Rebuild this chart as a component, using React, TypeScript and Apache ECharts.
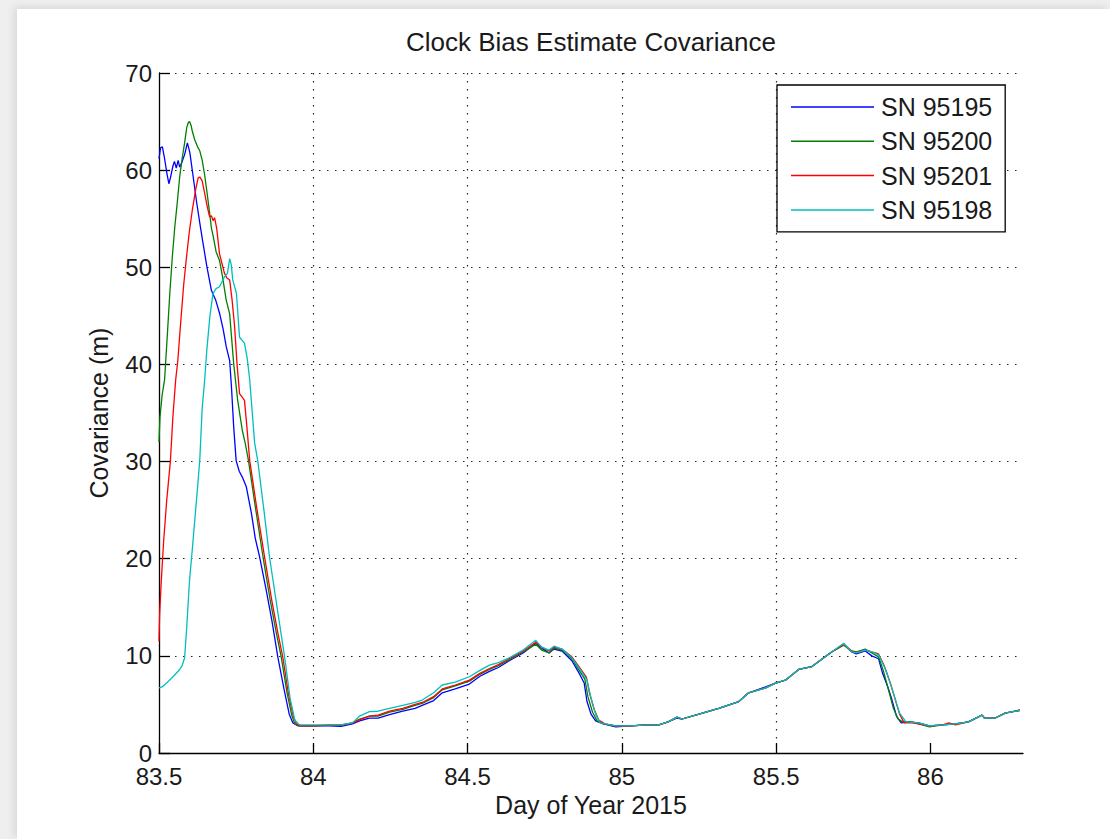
import React, { useEffect, useRef } from "react";
import * as echarts from "echarts";

const titleText = "Clock Bias Estimate Covariance";
const xName = "Day of Year 2015";
const yName = "Covariance (m)";
const xTicks = [83.5, 84, 84.5, 85, 85.5, 86];
const seriesNames = ["SN 95195", "SN 95200", "SN 95201", "SN 95198"];
const seriesColors = ["#0000ff", "#008000", "#ff0000", "#00bfbf"];

const sn95195 = [
  [83.5, 61.2], [83.505, 62.3], [83.511, 62.4], [83.518, 61.2], [83.526, 59.6], [83.532, 58.6],
  [83.537, 59.2], [83.545, 60.4], [83.55, 60.9], [83.556, 60.2], [83.562, 61.0], [83.567, 60.3],
  [83.573, 60.7], [83.583, 61.6], [83.592, 62.8], [83.6, 61.8], [83.61, 59.5], [83.621, 56.9],
  [83.632, 54.6], [83.641, 52.8], [83.655, 50.1], [83.67, 47.6], [83.684, 46.6], [83.696, 45.3],
  [83.708, 43.6], [83.718, 41.8], [83.729, 40.4], [83.735, 37.6], [83.742, 33.6], [83.75, 30.1],
  [83.76, 29.0], [83.77, 28.4], [83.783, 27.4], [83.8, 24.6], [83.812, 22.1], [83.826, 20.2],
  [83.846, 17.0], [83.866, 13.6], [83.885, 9.9], [83.905, 6.6], [83.922, 4.0], [83.934, 3.1],
  [83.95, 2.8], [84.0, 2.8], [84.05, 2.8], [84.09, 2.75], [84.127, 3.0], [84.15, 3.3],
  [84.182, 3.6], [84.21, 3.6], [84.247, 3.95], [84.29, 4.3], [84.33, 4.6], [84.353, 4.9],
  [84.39, 5.4], [84.418, 6.2], [84.46, 6.6], [84.506, 7.1], [84.54, 7.9], [84.571, 8.4],
  [84.6, 8.8], [84.635, 9.5], [84.68, 10.3], [84.721, 11.3], [84.74, 10.8], [84.764, 10.3],
  [84.78, 10.7], [84.806, 10.5], [84.838, 9.5], [84.86, 8.3], [84.878, 7.2], [84.887, 5.3],
  [84.9, 4.0], [84.915, 3.3], [84.94, 3.0], [84.98, 2.7], [85.03, 2.8], [85.08, 2.9],
  [85.12, 2.9], [85.15, 3.2], [85.179, 3.6], [85.195, 3.5], [85.25, 4.0], [85.314, 4.6],
  [85.379, 5.3], [85.411, 6.2], [85.466, 6.8], [85.498, 7.2], [85.53, 7.5], [85.573, 8.6],
  [85.616, 8.9], [85.65, 9.7], [85.68, 10.4], [85.719, 11.2], [85.745, 10.4], [85.76, 10.2],
  [85.789, 10.5], [85.81, 10.0], [85.832, 9.7], [85.845, 8.2], [85.862, 6.8], [85.875, 5.5],
  [85.89, 3.8], [85.905, 3.1], [85.93, 3.2], [85.962, 3.1], [85.997, 2.8], [86.04, 2.9],
  [86.081, 3.0], [86.123, 3.2], [86.167, 3.9], [86.175, 3.6], [86.21, 3.6], [86.242, 4.1],
  [86.29, 4.4],
];

const sn95200 = [
  [83.5, 32.0], [83.503, 34.5], [83.51, 36.8], [83.518, 38.4], [83.526, 42.5], [83.535, 47.3],
  [83.543, 51.0], [83.551, 54.1], [83.559, 56.6], [83.567, 59.3], [83.575, 61.2], [83.583, 62.8],
  [83.59, 64.4], [83.595, 64.9], [83.599, 65.0], [83.604, 64.6], [83.608, 64.0], [83.616, 63.1],
  [83.625, 62.4], [83.632, 62.0], [83.64, 61.0], [83.648, 59.5], [83.656, 57.6], [83.664, 55.6],
  [83.67, 54.0], [83.675, 53.3], [83.685, 51.6], [83.696, 50.7], [83.705, 49.2], [83.718, 46.6],
  [83.729, 45.2], [83.742, 40.1], [83.755, 36.3], [83.77, 33.2], [83.78, 31.8], [83.79, 30.1],
  [83.81, 25.8], [83.837, 20.2], [83.86, 15.8], [83.88, 12.4], [83.896, 9.9], [83.915, 6.2],
  [83.93, 3.9], [83.94, 3.0], [83.955, 2.8], [84.0, 2.8], [84.05, 2.85], [84.09, 2.85],
  [84.127, 3.1], [84.15, 3.5], [84.182, 3.8], [84.21, 3.8], [84.247, 4.2], [84.29, 4.5],
  [84.33, 4.9], [84.353, 5.1], [84.39, 5.7], [84.418, 6.5], [84.46, 6.9], [84.506, 7.4],
  [84.54, 8.1], [84.571, 8.6], [84.6, 9.0], [84.635, 9.6], [84.68, 10.4], [84.721, 11.2],
  [84.74, 10.6], [84.764, 10.3], [84.78, 10.8], [84.806, 10.6], [84.838, 9.7], [84.862, 8.5],
  [84.88, 7.6], [84.89, 5.8], [84.905, 4.2], [84.92, 3.3], [84.94, 3.0], [84.98, 2.8],
  [85.03, 2.8], [85.08, 2.9], [85.12, 2.9], [85.15, 3.2], [85.179, 3.7], [85.195, 3.5],
  [85.25, 4.0], [85.314, 4.6], [85.379, 5.3], [85.411, 6.2], [85.466, 6.7], [85.498, 7.2],
  [85.53, 7.5], [85.573, 8.6], [85.616, 8.9], [85.65, 9.7], [85.68, 10.4], [85.719, 11.1],
  [85.745, 10.5], [85.76, 10.4], [85.789, 10.7], [85.81, 10.3], [85.832, 9.9], [85.848, 8.4],
  [85.865, 6.4], [85.88, 4.6], [85.895, 3.5], [85.91, 3.2], [85.94, 3.2], [85.962, 3.0],
  [85.997, 2.7], [86.04, 2.9], [86.081, 3.0], [86.123, 3.2], [86.167, 3.9], [86.175, 3.6],
  [86.21, 3.6], [86.242, 4.1], [86.29, 4.4],
];

const sn95201 = [
  [83.5, 11.5], [83.502, 14.2], [83.507, 17.5], [83.515, 21.8], [83.525, 26.0], [83.537, 30.1],
  [83.545, 34.6], [83.554, 38.4], [83.561, 40.4], [83.57, 44.2], [83.58, 48.2], [83.588, 50.7],
  [83.598, 53.6], [83.608, 55.9], [83.62, 58.2], [83.627, 59.2], [83.632, 59.3], [83.64, 58.9],
  [83.648, 57.6], [83.656, 56.3], [83.664, 55.2], [83.67, 55.3], [83.675, 54.8], [83.68, 55.1],
  [83.687, 54.0], [83.696, 51.4], [83.712, 49.4], [83.72, 48.9], [83.729, 48.7], [83.737, 46.6],
  [83.745, 43.9], [83.753, 40.0], [83.761, 37.0], [83.77, 36.6], [83.777, 36.3], [83.785, 33.5],
  [83.794, 30.1], [83.815, 25.6], [83.842, 20.2], [83.865, 15.8], [83.885, 12.4], [83.901, 9.9],
  [83.92, 6.0], [83.935, 3.8], [83.945, 3.0], [83.96, 2.8], [84.0, 2.8], [84.05, 2.9],
  [84.09, 2.9], [84.127, 3.1], [84.15, 3.4], [84.182, 3.8], [84.21, 3.9], [84.247, 4.3],
  [84.29, 4.6], [84.33, 5.0], [84.353, 5.2], [84.39, 5.8], [84.418, 6.6], [84.46, 7.0],
  [84.506, 7.5], [84.54, 8.2], [84.571, 8.7], [84.6, 9.1], [84.635, 9.7], [84.68, 10.5],
  [84.721, 11.4], [84.74, 10.9], [84.764, 10.5], [84.78, 10.9], [84.806, 10.7], [84.838, 9.9],
  [84.865, 8.7], [84.885, 7.8], [84.895, 6.2], [84.91, 4.5], [84.925, 3.4], [84.945, 3.0],
  [84.98, 2.8], [85.03, 2.8], [85.08, 2.9], [85.12, 2.9], [85.15, 3.2], [85.179, 3.7],
  [85.195, 3.5], [85.25, 4.0], [85.314, 4.6], [85.379, 5.3], [85.411, 6.2], [85.466, 6.7],
  [85.498, 7.2], [85.53, 7.5], [85.573, 8.6], [85.616, 8.9], [85.65, 9.7], [85.68, 10.4],
  [85.719, 11.2], [85.745, 10.5], [85.76, 10.3], [85.789, 10.6], [85.81, 10.4], [85.832, 10.2],
  [85.85, 9.0], [85.87, 7.2], [85.885, 5.6], [85.9, 4.0], [85.915, 3.1], [85.94, 3.1],
  [85.962, 3.0], [85.997, 2.8], [86.04, 2.9], [86.06, 3.1], [86.081, 2.9], [86.123, 3.2],
  [86.167, 3.9], [86.175, 3.6], [86.21, 3.6], [86.242, 4.1], [86.29, 4.4],
];

const sn95198 = [
  [83.5, 6.7], [83.51, 6.8], [83.528, 7.3], [83.55, 8.0], [83.567, 8.6], [83.575, 9.0],
  [83.583, 9.8], [83.59, 13.0], [83.599, 17.8], [83.608, 21.0], [83.616, 24.0], [83.624, 27.0],
  [83.632, 30.1], [83.64, 35.5], [83.648, 38.4], [83.655, 41.5], [83.665, 45.0], [83.675, 47.3],
  [83.685, 47.8], [83.696, 48.0], [83.712, 49.0], [83.722, 49.4], [83.729, 50.9], [83.734, 50.3],
  [83.739, 48.7], [83.751, 47.3], [83.761, 42.8], [83.777, 42.2], [83.786, 40.6], [83.794, 38.4],
  [83.81, 31.9], [83.82, 30.1], [83.84, 25.0], [83.858, 20.2], [83.885, 14.5], [83.907, 9.9],
  [83.925, 5.6], [83.94, 3.4], [83.955, 2.9], [84.0, 2.9], [84.05, 2.9], [84.09, 2.9],
  [84.127, 3.1], [84.15, 3.8], [84.182, 4.25], [84.21, 4.3], [84.247, 4.6], [84.29, 4.9],
  [84.33, 5.2], [84.353, 5.45], [84.39, 6.2], [84.418, 7.0], [84.46, 7.3], [84.506, 7.85],
  [84.54, 8.5], [84.571, 9.05], [84.6, 9.3], [84.635, 9.8], [84.68, 10.6], [84.721, 11.6],
  [84.74, 10.9], [84.764, 10.6], [84.78, 11.0], [84.806, 10.7], [84.838, 9.8], [84.867, 8.5],
  [84.887, 7.5], [84.899, 5.8], [84.916, 3.9], [84.93, 3.1], [84.98, 2.8], [85.03, 2.8],
  [85.08, 2.9], [85.12, 2.9], [85.15, 3.2], [85.179, 3.7], [85.195, 3.5], [85.25, 4.0],
  [85.314, 4.6], [85.379, 5.3], [85.411, 6.2], [85.466, 6.7], [85.498, 7.2], [85.53, 7.5],
  [85.573, 8.6], [85.616, 8.9], [85.65, 9.7], [85.68, 10.4], [85.719, 11.3], [85.745, 10.4],
  [85.76, 10.3], [85.789, 10.6], [85.81, 10.4], [85.832, 10.1], [85.856, 8.5], [85.877, 6.5],
  [85.9, 4.1], [85.921, 3.2], [85.962, 3.1], [85.997, 2.8], [86.04, 2.9], [86.081, 3.0],
  [86.123, 3.2], [86.167, 3.9], [86.175, 3.6], [86.21, 3.6], [86.242, 4.1], [86.29, 4.4],
];

const seriesData = [sn95195, sn95200, sn95201, sn95198];

const FONT = "'Liberation Sans', Arial, Helvetica, sans-serif";
const TEXT = "#1a1a1a";

export default function App() {
  const ref = useRef<HTMLDivElement>(null);

  useEffect(() => {
    if (!ref.current) return;
    const chart = echarts.init(ref.current, undefined, { renderer: "svg" });
    const option: any = {
      animation: false,
      backgroundColor: "transparent",
      textStyle: { fontFamily: FONT },
      title: {
        text: titleText,
        left: 406,
        top: 29,
        padding: 0,
        textStyle: { fontFamily: FONT, fontSize: 26, fontWeight: "normal", color: TEXT },
      },
      grid: { left: 159, right: 87, top: 73, bottom: 86, containLabel: false },
      legend: {
        orient: "vertical",
        left: 777,
        top: 85,
        icon: "rect",
        itemWidth: 83,
        itemHeight: 1.5,
        itemGap: 9.3,
        padding: [9.5, 13, 9.5, 14],
        borderColor: "#000",
        borderWidth: 1.3,
        borderRadius: 0,
        backgroundColor: "#fff",
        data: seriesNames,
        textStyle: { fontFamily: FONT, fontSize: 25, lineHeight: 25, height: 25, color: TEXT, padding: [0, 0, 0, 2] },
      },
      xAxis: {
        type: "value",
        min: 83.5,
        max: 86.3,
        interval: 0.5,
        name: xName,
        nameLocation: "middle",
        nameGap: 39,
        nameTextStyle: { fontFamily: FONT, fontSize: 25, color: TEXT },
        axisLine: { show: true, onZero: false, lineStyle: { color: "#000", width: 1.3 } },
        axisTick: { show: true, inside: true, length: 10, customValues: xTicks, lineStyle: { color: "#000", width: 1.3 } },
        axisLabel: {
          customValues: xTicks,
          fontFamily: FONT,
          fontSize: 24,
          lineHeight: 18,
          color: TEXT,
          margin: 14,
          formatter: (v: number) => String(v),
        },
        splitLine: {
          show: true,
          showMinLine: false,
          showMaxLine: false,
          lineStyle: { type: [1.5, 6.5], color: "#222", width: 1.2 },
        },
      },
      yAxis: {
        type: "value",
        min: 0,
        max: 70,
        interval: 10,
        name: yName,
        nameLocation: "middle",
        nameGap: 48,
        nameTextStyle: { fontFamily: FONT, fontSize: 25, color: TEXT },
        axisLine: { show: true, onZero: false, lineStyle: { color: "#000", width: 1.3 } },
        axisTick: { show: true, inside: true, length: 11, lineStyle: { color: "#000", width: 1.3 } },
        axisLabel: { fontFamily: FONT, fontSize: 24, lineHeight: 18, color: TEXT, margin: 7 },
        splitLine: {
          show: true,
          showMinLine: false,
          lineStyle: { type: [1.5, 6.5], color: "#222", width: 1.2 },
        },
      },
      series: seriesNames.map((name, i) => ({
        name,
        type: "line",
        data: seriesData[i],
        symbol: "none",
        showSymbol: false,
        smooth: false,
        color: seriesColors[i],
        itemStyle: { color: seriesColors[i] },
        lineStyle: { color: seriesColors[i], width: 1.3 },
        z: 2 + i,
      })),
    };
    chart.setOption(option);
    return () => chart.dispose();
  }, []);

  return (
    <div style={{ position: "absolute", left: 0, top: 0, width: 1110, height: 839, background: "#efefef", overflow: "hidden" }}>
      <div
        style={{
          position: "absolute",
          left: 17,
          top: 9,
          width: 1093,
          height: 830,
          background: "#ffffff",
          boxShadow: "-3px -2px 8px rgba(0,0,0,0.10)",
        }}
      />
      <div ref={ref} style={{ position: "absolute", left: 0, top: 0, width: 1110, height: 839 }} />
    </div>
  );
}
